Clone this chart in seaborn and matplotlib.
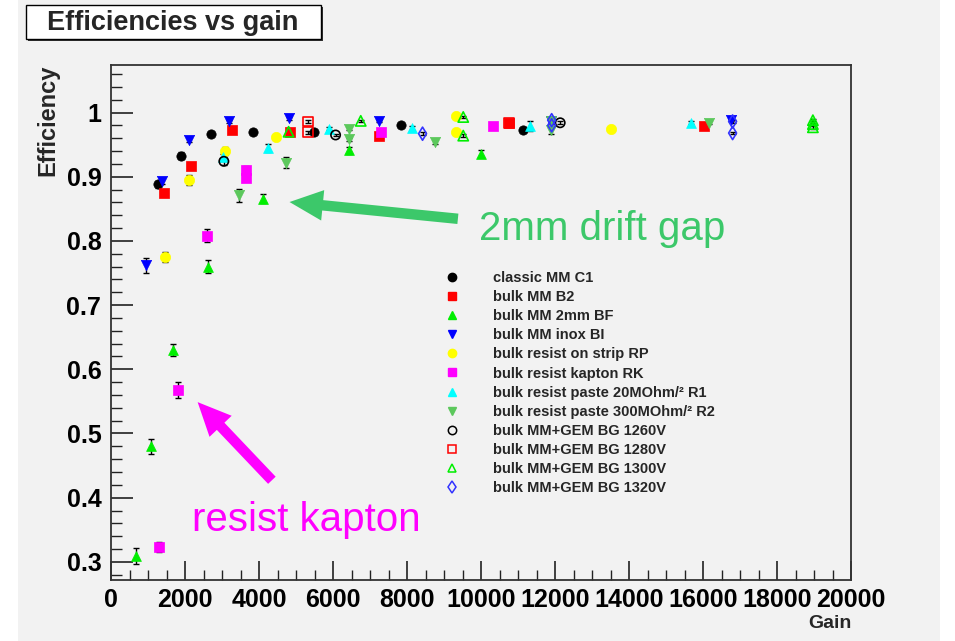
import numpy as np
import pandas as pd
import matplotlib
matplotlib.use("Agg")
import matplotlib.pyplot as plt
from matplotlib.lines import Line2D
from matplotlib.patches import Rectangle
import seaborn as sns

# ---------------- data ----------------
series_names = [
    "classic MM C1", "bulk MM B2", "bulk MM 2mm BF", "bulk MM inox BI",
    "bulk resist on strip RP", "bulk resist kapton RK",
    "bulk resist paste 20MOhm/\u00b2 R1", "bulk resist paste 300MOhm/\u00b2 R2",
    "bulk MM+GEM BG 1260V", "bulk MM+GEM BG 1280V",
    "bulk MM+GEM BG 1300V", "bulk MM+GEM BG 1320V",
]

c1_gain = [1270, 1890, 2700, 3840, 5490, 7830, 11140]
c1_eff = [0.888, 0.933, 0.967, 0.970, 0.970, 0.980, 0.972]
c1_err = [0.005, 0.005, 0.003, 0.002, 0.002, 0.002, 0.002]

b2_gain = [1430, 2160, 3260, 4840, 7230, 10760, 16030]
b2_eff = [0.875, 0.917, 0.972, 0.969, 0.964, 0.983, 0.979]
b2_err = [0.005, 0.005, 0.002, 0.002, 0.003, 0.002, 0.002]

bf_gain = [670, 1070, 1680, 2630, 4110, 6430, 10000]
bf_eff = [0.309, 0.480, 0.630, 0.760, 0.866, 0.941, 0.936]
bf_err = [0.012, 0.012, 0.010, 0.010, 0.007, 0.005, 0.005]

bi_gain = [940, 1390, 2110, 3200, 4820, 7240, 11900, 16770]
bi_eff = [0.762, 0.893, 0.957, 0.986, 0.991, 0.987, 0.987, 0.988]
bi_err = [0.012, 0.005, 0.003, 0.002, 0.002, 0.002, 0.002, 0.002]

rp_gain = [1450, 2110, 3070, 4450, 9330, 9330, 13510]
rp_eff = [0.775, 0.895, 0.940, 0.962, 0.994, 0.970, 0.974]
rp_err = [0.008, 0.008, 0.006, 0.003, 0.003, 0.003, 0.002]

rk_gain = [1300, 1810, 2590, 3660, 3660, 7300, 10330]
rk_eff = [0.323, 0.568, 0.808, 0.911, 0.898, 0.970, 0.979]
rk_err = [0.008, 0.012, 0.010, 0.005, 0.005, 0.003, 0.002]

r1_gain = [3040, 4250, 5890, 8140, 11320, 15680]
r1_eff = [0.930, 0.945, 0.975, 0.976, 0.979, 0.984]
r1_err = [0.006, 0.006, 0.003, 0.003, 0.008, 0.002]

r2_gain = [3470, 4740, 6440, 6440, 8760, 11900, 11900, 16170]
r2_eff = [0.871, 0.922, 0.975, 0.958, 0.954, 0.986, 0.972, 0.984]
r2_err = [0.010, 0.008, 0.003, 0.003, 0.003, 0.003, 0.005, 0.002]

bg1260_gain = [3050, 6070, 12140]
bg1260_eff = [0.924, 0.965, 0.984]
bg1260_err = [0.006, 0.002, 0.002]

bg1280_gain = [5320, 5320, 10760]
bg1280_eff = [0.986, 0.969, 0.984]
bg1280_err = [0.002, 0.002, 0.002]

bg1300_gain = [4800, 6750, 9520, 9520, 18970, 18970, 18970]
bg1300_eff = [0.970, 0.987, 0.993, 0.964, 0.988, 0.982, 0.977]
bg1300_err = [0.002, 0.002, 0.002, 0.002, 0.002, 0.002, 0.002]

bg1320_gain = [8420, 11910, 11910, 16800, 16800]
bg1320_eff = [0.967, 0.988, 0.980, 0.986, 0.968]
bg1320_err = [0.002, 0.002, 0.002, 0.002, 0.002]

x_ticks = [0, 2000, 4000, 6000, 8000, 10000, 12000, 14000, 16000, 18000, 20000]
y_ticks = [0.3, 0.4, 0.5, 0.6, 0.7, 0.8, 0.9, 1.0]
y_tick_labels = ["0.3", "0.4", "0.5", "0.6", "0.7", "0.8", "0.9", "1"]

all_data = [
    (c1_gain, c1_eff, c1_err), (b2_gain, b2_eff, b2_err),
    (bf_gain, bf_eff, bf_err), (bi_gain, bi_eff, bi_err),
    (rp_gain, rp_eff, rp_err), (rk_gain, rk_eff, rk_err),
    (r1_gain, r1_eff, r1_err), (r2_gain, r2_eff, r2_err),
    (bg1260_gain, bg1260_eff, bg1260_err), (bg1280_gain, bg1280_eff, bg1280_err),
    (bg1300_gain, bg1300_eff, bg1300_err), (bg1320_gain, bg1320_eff, bg1320_err),
]

# ---------------- styles ----------------
styles = [
    dict(marker="o", color="#000000", filled=True, s=45),
    dict(marker="s", color="#ff0000", filled=True, s=50),
    dict(marker="^", color="#00ee00", filled=True, s=50),
    dict(marker="v", color="#0000ff", filled=True, s=55),
    dict(marker="o", color="#ffff00", filled=True, s=55),
    dict(marker="s", color="#ff00ff", filled=True, s=50),
    dict(marker="^", color="#00ffff", filled=True, s=50),
    dict(marker="v", color="#5cc85c", filled=True, s=55),
    dict(marker="o", color="#000000", filled=False, s=45),
    dict(marker="s", color="#ff0000", filled=False, s=50),
    dict(marker="^", color="#00ee00", filled=False, s=55),
    dict(marker="d", color="#3333ff", filled=False, s=45),
]

sns.set_style("ticks")
plt.rcParams["font.family"] = ["Liberation Sans", "DejaVu Sans"]

W, H = 955, 641
fig = plt.figure(figsize=(W / 100, H / 100), dpi=100)
fig.patch.set_facecolor("white")
# grey canvas
fig.patches.append(Rectangle((18 / W, 0), (940 - 18) / W, 1.0, transform=fig.transFigure,
                             facecolor="#f2f2f2", edgecolor="none", zorder=-10))

ax_l, ax_r, ax_t, ax_b = 111, 851, 65, 580
ax = fig.add_axes([ax_l / W, 1 - ax_b / H, (ax_r - ax_l) / W, (ax_b - ax_t) / H])
ax.set_facecolor("#f2f2f2")

for (g, e, er), st in zip(all_data, styles):
    ax.errorbar(g, e, yerr=er, fmt="none", ecolor="black", elinewidth=1.0,
                capsize=2.5, capthick=1.0, zorder=2)
    df = pd.DataFrame({"gain": g, "eff": e})
    if st["filled"]:
        sns.scatterplot(data=df, x="gain", y="eff", ax=ax, marker=st["marker"],
                        s=st["s"], color=st["color"], edgecolor=st["color"],
                        linewidth=0.5, zorder=3, legend=False)
    else:
        sns.scatterplot(data=df, x="gain", y="eff", ax=ax, marker=st["marker"],
                        s=st["s"], facecolor="none", edgecolor=st["color"],
                        linewidth=1.2, zorder=3, legend=False)

ax.set_xlim(0, 20000)
ax.set_ylim(0.2718, 1.074)
ax.set_xticks(x_ticks)
ax.set_xticklabels([str(t) for t in x_ticks])
ax.set_yticks(y_ticks)
ax.set_yticklabels(y_tick_labels)
ax.set_xticks(np.arange(0, 20001, 500), minor=True)
ax.set_yticks(np.arange(0.28, 1.07, 0.02), minor=True)
ax.tick_params(axis="both", which="both", direction="in", top=False, right=False,
               colors="#222222", labelcolor="black")
ax.tick_params(axis="y", which="major", length=16, width=1.2, labelsize=18, pad=7)
ax.tick_params(axis="y", which="minor", length=8, width=1.0)
ax.tick_params(axis="x", which="major", length=14, width=1.2, labelsize=18, pad=6)
ax.tick_params(axis="x", which="minor", length=7, width=1.0)
for lab in ax.get_xticklabels() + ax.get_yticklabels():
    lab.set_fontweight("bold")
for sp in ax.spines.values():
    sp.set_linewidth(1.3)
    sp.set_color("#333333")

ax.set_xlabel("")
ax.set_ylabel("")
fig.text(852 / W, 1 - 623 / H, "Gain", ha="right", va="center", fontsize=14,
         fontweight="bold")
fig.text(48 / W, 1 - 65 / H, "Efficiency", ha="center", va="top", rotation=90,
         fontsize=17, fontweight="bold")

# ---------------- legend ----------------
handles = []
for st, name in zip(styles, series_names):
    if st["filled"]:
        h = Line2D([], [], linestyle="none", marker=st["marker"], markersize=6,
                   markerfacecolor=st["color"], markeredgecolor=st["color"])
    else:
        h = Line2D([], [], linestyle="none", marker=st["marker"], markersize=6,
                   markerfacecolor="none", markeredgecolor=st["color"],
                   markeredgewidth=1.1)
    handles.append(h)
fs = 10.5
fs_px = fs * 100 / 72
leg = fig.legend(handles, series_names, loc="upper left",
                 bbox_to_anchor=((452 - 0.5 * fs_px) / W, 1 - 271 / H),
                 frameon=False, fontsize=fs, handlelength=1.0,
                 handletextpad=2.31, labelspacing=0.35, borderpad=0,
                 borderaxespad=0, prop=dict(weight="bold", size=fs))

# ---------------- annotations ----------------
ax.annotate("", xy=(4750, 0.861), xytext=(9450, 0.834),
            arrowprops=dict(arrowstyle="simple,head_length=2.4,head_width=2.2,tail_width=0.75",
                            mutation_scale=10, color="#3cc86a", lw=0))
ax.text(13270, 0.819, "2mm drift gap", color="#3cc86a", fontsize=29,
        ha="center", va="center")
ax.annotate("", xy=(2290, 0.552), xytext=(4400, 0.424),
            arrowprops=dict(arrowstyle="simple,head_length=2.4,head_width=2.2,tail_width=0.75",
                            mutation_scale=10, color="#ff00ff", lw=0))
ax.text(5270, 0.366, "resist kapton", color="#ff00ff", fontsize=29,
        ha="center", va="center")

# ---------------- title box ----------------
fig.patches.append(Rectangle((28 / W, 1 - 41 / H), (321 - 26) / W, 34 / H,
                             transform=fig.transFigure, facecolor="#333333",
                             edgecolor="none", zorder=5))
fig.patches.append(Rectangle((26 / W, 1 - 39 / H), (321 - 26) / W, 34 / H,
                             transform=fig.transFigure, facecolor="white",
                             edgecolor="black", linewidth=1.0, zorder=6))
t = fig.text(173 / W, 1 - 23 / H, "Efficiencies vs gain", ha="center", va="center",
             fontsize=19.5, fontweight="bold", zorder=7)

fig.savefig("out.png", dpi=100, facecolor=fig.get_facecolor())
